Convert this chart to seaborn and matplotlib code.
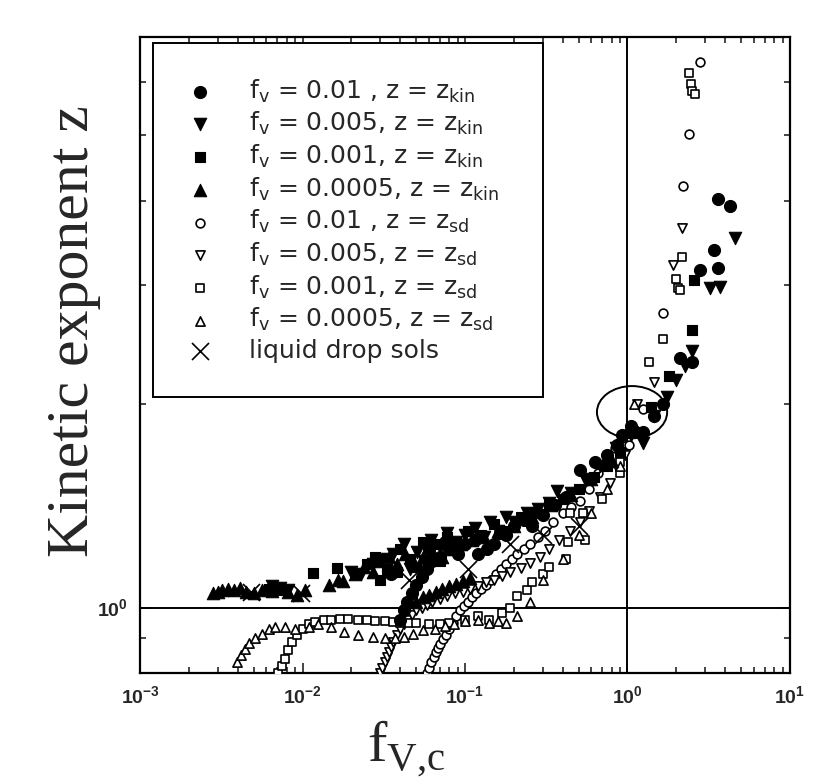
import numpy as np
import matplotlib
matplotlib.use("Agg")
import matplotlib.pyplot as plt
import seaborn as sns
from matplotlib.patches import Ellipse
from matplotlib.ticker import LogLocator, NullFormatter

# ---------------- data ----------------
kin01_x = [0.04, 0.042, 0.044, 0.047, 0.05, 0.054, 0.058, 0.063, 0.07, 0.08, 0.09, 0.1, 0.115, 0.137,
           0.165, 0.2, 0.23, 0.26, 0.3, 0.36, 0.42, 0.51, 0.6, 0.63, 0.75, 0.86, 0.93, 1.05, 1.25, 1.45,
           1.65, 2.1, 2.5, 2.8, 3.4, 3.6, 3.6, 4.3, 0.035, 0.06, 0.075, 0.12, 0.15, 0.18]
kin01_y = [0.96, 0.99, 1.02, 1.05, 1.08, 1.11, 1.14, 1.17, 1.19, 1.22, 1.2, 1.24, 1.26, 1.22,
           1.29, 1.32, 1.35, 1.32, 1.37, 1.42, 1.46, 1.6, 1.55, 1.64, 1.68, 1.74, 1.8, 1.86, 1.82, 1.92,
           2.0, 2.34, 2.31, 3.16, 3.38, 3.18, 4.03, 3.93, 1.12, 1.22, 1.25, 1.2, 1.24, 1.28]

kin005_x = [0.0065, 0.0073, 0.0082, 0.02, 0.023, 0.027, 0.031, 0.036, 0.042, 0.046, 0.051, 0.056, 0.062,
            0.07, 0.078, 0.088, 0.1, 0.115, 0.13, 0.142, 0.16, 0.18, 0.2, 0.24, 0.28, 0.33, 0.37, 0.45,
            0.55, 0.68, 0.85, 1.05, 1.25, 1.45, 1.75, 2.0, 2.25, 2.5, 3.2, 3.7, 4.6]
kin005_y = [1.075, 1.068, 1.06, 1.13, 1.12, 1.16, 1.18, 1.2, 1.24, 1.14, 1.21, 1.17, 1.26,
            1.23, 1.29, 1.25, 1.28, 1.31, 1.27, 1.34, 1.3, 1.36, 1.34, 1.38, 1.4, 1.43, 1.49, 1.48,
            1.55, 1.62, 1.72, 1.8, 1.75, 1.92, 2.05, 2.17, 2.28, 2.4, 2.97, 2.98, 3.52]

kin001_x = [0.0062, 0.0068, 0.0076, 0.0116, 0.0163, 0.025, 0.028, 0.033, 0.04, 0.046, 0.055, 0.065,
            0.078, 0.09, 0.105, 0.125, 0.15, 0.18, 0.22, 0.27, 0.33, 0.4, 0.5, 0.62, 0.75, 0.9, 1.1,
            1.4, 1.8, 2.5, 2.55, 0.03, 0.038, 0.05, 0.07]
kin001_y = [1.065, 1.07, 1.06, 1.125, 1.145, 1.16, 1.19, 1.14, 1.22, 1.18, 1.25, 1.24,
            1.27, 1.23, 1.3, 1.28, 1.33, 1.3, 1.36, 1.38, 1.42, 1.45, 1.5, 1.56, 1.62, 1.7, 1.82,
            1.98, 2.2, 2.58, 3.05, 1.1, 1.13, 1.15, 1.17]

kin0005_x = [0.0028, 0.003, 0.0032, 0.0035, 0.0038, 0.0041, 0.0045, 0.005, 0.0056, 0.0065, 0.0072,
             0.0082, 0.0092, 0.0104, 0.0145, 0.0165, 0.0178, 0.021, 0.024, 0.027, 0.03, 0.034, 0.038,
             0.043, 0.048, 0.055, 0.063, 0.072, 0.083, 0.095, 0.11, 0.13, 0.16, 0.2, 0.26, 0.34, 0.45,
             0.6, 0.8, 0.05, 0.055, 0.06, 0.066, 0.072, 0.08, 0.088, 0.097, 0.107]
kin0005_y = [1.05, 1.055, 1.06, 1.065, 1.06, 1.068, 1.055, 1.05, 1.062, 1.058, 1.07,
             1.055, 1.045, 1.06, 1.08, 1.1, 1.095, 1.12, 1.15, 1.13, 1.17, 1.19, 1.16,
             1.2, 1.17, 1.19, 1.21, 1.19, 1.22, 1.24, 1.26, 1.27, 1.3, 1.32, 1.36, 1.42, 1.47,
             1.55, 1.65, 1.02, 1.035, 1.045, 1.055, 1.065, 1.075, 1.085, 1.095, 1.105]

sd01_x = [0.058, 0.06, 0.062, 0.064, 0.066, 0.068, 0.07, 0.073, 0.076, 0.08, 0.084, 0.088, 0.093, 0.098,
          0.104, 0.11, 0.117, 0.125, 0.134, 0.144, 0.155, 0.167, 0.18, 0.195, 0.21, 0.23, 0.25, 0.28,
          0.31, 0.35, 0.4, 0.45, 0.51, 0.58, 0.66, 0.75, 0.84, 0.92, 1.02, 1.1, 1.25, 1.65, 2.2, 2.4, 2.8]
sd01_y = [0.8, 0.815, 0.83, 0.845, 0.86, 0.872, 0.884, 0.897, 0.91, 0.93, 0.95, 0.97, 0.99, 1.005,
          1.02, 1.035, 1.05, 1.065, 1.08, 1.1, 1.12, 1.14, 1.16, 1.18, 1.2, 1.22, 1.24, 1.27,
          1.3, 1.34, 1.38, 1.41, 1.44, 1.5, 1.58, 1.66, 1.72, 1.78, 1.74, 1.84, 1.97, 2.73, 4.21, 5.03, 6.42]

sd005_x = [0.03, 0.031, 0.032, 0.033, 0.034, 0.035, 0.036, 0.038, 0.04, 0.042, 0.044, 0.047, 0.05, 0.054,
           0.058, 0.063, 0.07, 0.078, 0.087, 0.097, 0.108, 0.12, 0.135, 0.15, 0.17, 0.19, 0.22, 0.25,
           0.29, 0.33, 0.38, 0.44, 0.51, 0.58, 0.68, 0.78, 0.88, 0.96, 1.15, 1.45, 1.9, 2.15]
sd005_y = [0.8, 0.815, 0.83, 0.845, 0.86, 0.875, 0.89, 0.91, 0.93, 0.945, 0.96, 0.975, 0.99, 1.0,
           1.01, 1.02, 1.03, 1.04, 1.05, 1.055, 1.065, 1.075, 1.09, 1.1, 1.115, 1.13, 1.145, 1.165,
           1.19, 1.22, 1.26, 1.3, 1.34, 1.39, 1.46, 1.53, 1.6, 1.68, 2.0, 2.16, 3.21, 3.65]

sd001_x = [0.0071, 0.0075, 0.0078, 0.0081, 0.0086, 0.0092, 0.01, 0.011, 0.012, 0.0135, 0.015, 0.017,
           0.019, 0.022, 0.025, 0.028, 0.032, 0.036, 0.04, 0.045, 0.05, 0.06, 0.07, 0.08, 0.1, 0.12,
           0.14, 0.17, 0.19, 0.21, 0.24, 0.26, 0.3, 0.33, 0.42, 0.43, 0.55, 0.53, 0.44, 0.7, 0.9, 0.9,
           1.35, 1.65, 2.0, 2.05, 2.1, 2.15, 2.4, 2.45, 2.5, 2.6]
sd001_y = [0.8, 0.82, 0.84, 0.865, 0.89, 0.91, 0.93, 0.945, 0.953, 0.958, 0.96, 0.962,
           0.962, 0.96, 0.958, 0.956, 0.954, 0.952, 0.95, 0.95, 0.948, 0.945, 0.945, 0.95, 0.96, 0.97,
           0.96, 0.98, 1.0, 1.04, 1.06, 1.09, 1.12, 1.15, 1.18, 1.25, 1.26, 1.38, 1.38, 1.45, 1.58, 1.64,
           2.31, 2.5, 3.07, 2.97, 2.95, 3.3, 6.18, 5.96, 5.82, 5.75]

sd0005_x = [0.00395, 0.0042, 0.0044, 0.0047, 0.0051, 0.0056, 0.0062, 0.0068, 0.0078, 0.009, 0.011,
            0.0125, 0.015, 0.018, 0.022, 0.027, 0.032, 0.037, 0.042, 0.048, 0.055, 0.065, 0.075, 0.085,
            0.1, 0.12, 0.14, 0.16, 0.18, 0.21, 0.25, 0.3, 0.4, 0.5, 0.6, 0.75, 0.9, 1.1]
sd0005_y = [0.83, 0.85, 0.867, 0.885, 0.9, 0.915, 0.93, 0.937, 0.935, 0.93, 0.935,
            0.945, 0.935, 0.92, 0.91, 0.905, 0.9, 0.9, 0.905, 0.915, 0.925, 0.93, 0.94, 0.945,
            0.955, 0.96, 0.95, 0.955, 0.95, 0.97, 1.02, 1.1, 1.18, 1.28, 1.38, 1.5, 1.62, 2.0]

drop_x = [0.0048, 0.0098, 0.045, 0.105, 0.19, 0.3, 0.5]
drop_y = [1.055, 1.05, 1.1, 1.14, 1.24, 1.28, 1.32]

labels = [
    r"f$_\mathregular{v}$ = 0.01 , z = z$_\mathregular{kin}$",
    r"f$_\mathregular{v}$ = 0.005, z = z$_\mathregular{kin}$",
    r"f$_\mathregular{v}$ = 0.001, z = z$_\mathregular{kin}$",
    r"f$_\mathregular{v}$ = 0.0005, z = z$_\mathregular{kin}$",
    r"f$_\mathregular{v}$ = 0.01 , z = z$_\mathregular{sd}$",
    r"f$_\mathregular{v}$ = 0.005, z = z$_\mathregular{sd}$",
    r"f$_\mathregular{v}$ = 0.001, z = z$_\mathregular{sd}$",
    r"f$_\mathregular{v}$ = 0.0005, z = z$_\mathregular{sd}$",
    "liquid drop sols",
]

xtick_vals = [1e-3, 1e-2, 1e-1, 1e0, 1e1]
xtick_labels = [r"$\mathregular{10^{-3}}$", r"$\mathregular{10^{-2}}$", r"$\mathregular{10^{-1}}$",
                r"$\mathregular{10^{0}}$", r"$\mathregular{10^{1}}$"]
ytick_vals = [1.0]
ytick_labels = [r"$\mathregular{10^{0}}$"]

# ---------------- plotting ----------------
sns.set_style("ticks")
plt.rcParams["font.family"] = ["Liberation Sans", "DejaVu Sans"]
plt.rcParams["mathtext.fontset"] = "custom"
plt.rcParams["mathtext.rm"] = "Liberation Sans"

fig = plt.figure(figsize=(8.14, 7.83), dpi=100)
ax = fig.add_axes([0.172, 0.1405, 0.7985, 0.8125])
ax.set_xscale("log")
ax.set_yscale("log")

series = [
    (kin01_x, kin01_y, "o", True, 75),
    (kin005_x, kin005_y, "v", True, 80),
    (kin001_x, kin001_y, "s", True, 50),
    (kin0005_x, kin0005_y, "^", True, 80),
    (sd01_x, sd01_y, "o", False, 40),
    (sd005_x, sd005_y, "v", False, 44),
    (sd001_x, sd001_y, "s", False, 38),
    (sd0005_x, sd0005_y, "^", False, 44),
]
for (xs, ys, mk, filled, size), lab in zip(series, labels):
    if filled:
        sns.scatterplot(x=xs, y=ys, marker=mk, s=size, color="black", edgecolor="black",
                        linewidth=0.8, ax=ax, label=lab, zorder=4)
    else:
        sns.scatterplot(x=xs, y=ys, marker=mk, s=size, color="black", facecolor="white",
                        edgecolor="black", linewidth=1.2, ax=ax, label=lab, zorder=3)
sns.scatterplot(x=drop_x, y=drop_y, marker="x", s=150, color="black", linewidth=1.2,
                ax=ax, label=labels[8], zorder=5)

ax.axhline(1.0, color="black", lw=1.4, zorder=1)
ax.axvline(1.0, color="black", lw=1.4, zorder=1)
ax.add_patch(Ellipse((0.757, 0.41), 0.108, 0.082, transform=ax.transAxes,
                     fill=False, edgecolor="black", lw=1.4, zorder=6))

ax.set_xlim(1e-3, 1e1)
ax.set_ylim(0.8, 7.0)
ax.set_xticks(xtick_vals)
ax.set_xticklabels(xtick_labels, fontweight="bold")
ax.set_yticks(ytick_vals)
ax.set_yticklabels(ytick_labels, fontweight="bold")
ax.xaxis.set_minor_locator(LogLocator(base=10, subs=np.arange(2, 10), numticks=20))
ax.yaxis.set_minor_locator(LogLocator(base=10, subs=np.arange(2, 10), numticks=20))
ax.xaxis.set_minor_formatter(NullFormatter())
ax.yaxis.set_minor_formatter(NullFormatter())
ax.tick_params(which="both", direction="in", top=True, right=True, width=1.2, labelsize=14)
ax.tick_params(which="major", length=7, pad=9)
ax.tick_params(which="minor", length=4)
for sp in ax.spines.values():
    sp.set_linewidth(1.6)
    sp.set_color("black")

ax.set_ylabel("Kinetic exponent z", family=["Liberation Serif"], fontsize=43)
ax.yaxis.set_label_coords(-0.06, 0.538)
ax.set_xlabel(r"f$_\mathregular{V{,}c}$", family=["Liberation Serif"], fontsize=42)
ax.xaxis.set_label_coords(0.41, -0.072)

leg = ax.legend(loc="upper left", bbox_to_anchor=(0.02, 0.4355, 0.6, 0.555), mode="expand",
                borderaxespad=0, frameon=True, fancybox=False, edgecolor="black", framealpha=1,
                prop={"family": ["DejaVu Sans"], "size": 18},
                handletextpad=1.45, labelspacing=0.22, borderpad=1.38,
                handlelength=1.0)
leg.get_frame().set_linewidth(1.4)
leg.set_zorder(10)

fig.savefig("out.png", dpi=100)
